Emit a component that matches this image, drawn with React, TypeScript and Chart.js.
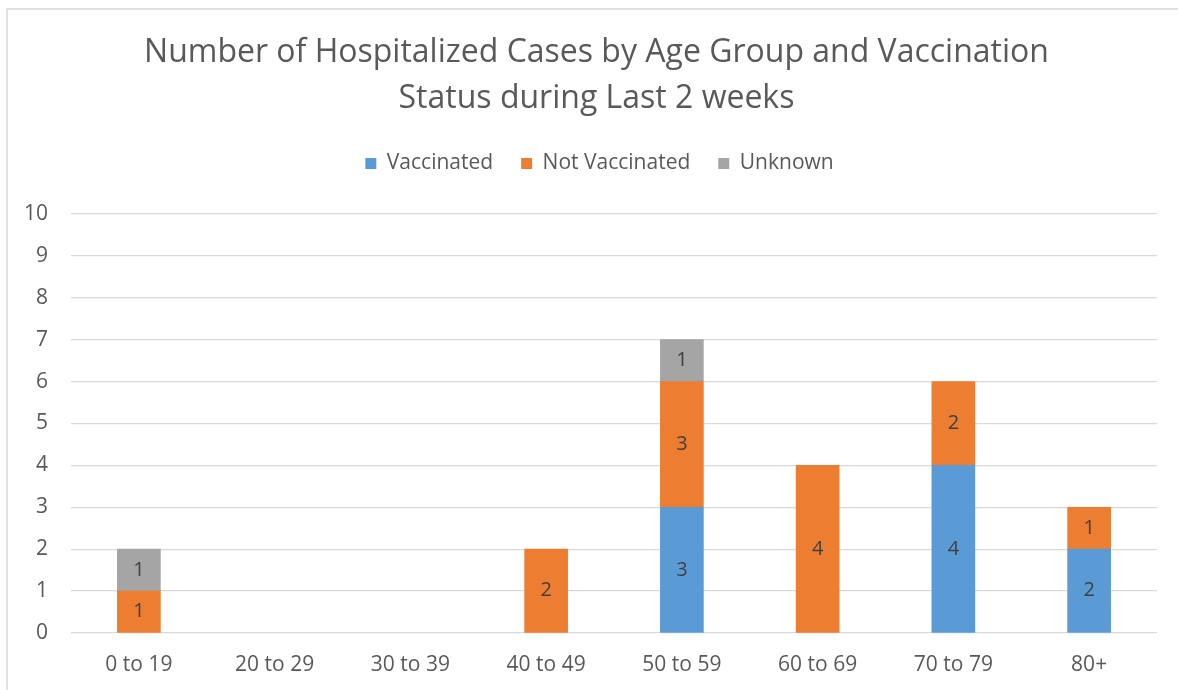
import React, { useEffect, useRef } from "react";
import { Chart, registerables } from "chart.js";

Chart.register(...registerables);

const categories = ["0 to 19", "20 to 29", "30 to 39", "40 to 49", "50 to 59", "60 to 69", "70 to 79", "80+"];
const vaccinated = [0, 0, 0, 0, 3, 0, 4, 2];
const notVaccinated = [1, 0, 0, 2, 3, 4, 2, 1];
const unknown = [1, 0, 0, 0, 1, 0, 0, 0];
const yTicks = [0, 1, 2, 3, 4, 5, 6, 7, 8, 9, 10];
const titleLines = ["Number of Hospitalized Cases by Age Group and Vaccination", "Status during Last 2 weeks"];

const FONT = "'Open Sans', sans-serif";
const TEXT = "#595959";

const nz = (arr: number[]) => arr.map((v) => (v === 0 ? null : v));

const frameAndLabels = {
  id: "frameAndLabels",
  afterInit(chart: any) {
    const legend = chart.legend;
    if (legend && !legend.__patched) {
      const orig = legend.fit.bind(legend);
      legend.fit = function () {
        orig();
        this.height += 30;
      };
      legend.__patched = true;
    }
  },
  afterLayout(chart: any) {
    if (chart.legend) {
      chart.legend.left += 11;
      chart.legend.right += 11;
    }
    if (chart.titleBlock) {
      chart.titleBlock.left += 8;
      chart.titleBlock.right += 8;
    }
  },
  beforeDraw(chart: any) {
    const ctx = chart.ctx;
    ctx.save();
    ctx.fillStyle = "#ffffff";
    ctx.fillRect(0, 0, chart.width, chart.height);
    ctx.strokeStyle = "#D9D9D9";
    ctx.lineWidth = 1.5;
    ctx.strokeRect(7, 9, chart.width + 50, chart.height + 50);
    ctx.restore();
  },
  afterDatasetsDraw(chart: any) {
    const ctx = chart.ctx;
    ctx.save();
    ctx.font = `20px ${FONT}`;
    ctx.fillStyle = "#404040";
    ctx.textAlign = "center";
    ctx.textBaseline = "middle";
    chart.data.datasets.forEach((ds: any, di: number) => {
      const meta = chart.getDatasetMeta(di);
      meta.data.forEach((el: any, i: number) => {
        const v = ds.data[i];
        if (!v) return;
        ctx.fillText(String(v), el.x, (el.y + el.base) / 2);
      });
    });
    ctx.restore();
  },
};

export default function App() {
  const ref = useRef<HTMLCanvasElement>(null);
  useEffect(() => {
    if (!ref.current) return;
    const chart = new Chart(ref.current, {
      type: "bar",
      data: {
        labels: categories,
        datasets: [
          { label: "Vaccinated", data: nz(vaccinated), backgroundColor: "#5B9BD5", borderWidth: 0, barThickness: 43 },
          { label: "Not Vaccinated", data: nz(notVaccinated), backgroundColor: "#ED7D31", borderWidth: 0, barThickness: 43 },
          { label: "Unknown", data: nz(unknown), backgroundColor: "#A5A5A5", borderWidth: 0, barThickness: 43 },
        ],
      },
      options: {
        responsive: false,
        animation: false,
        layout: { padding: { left: 20, right: 21, top: 0, bottom: 0 } },
        plugins: {
          title: {
            display: true,
            text: titleLines,
            color: TEXT,
            font: { family: FONT, size: 32, weight: "normal", lineHeight: 46 / 32 },
            padding: { top: 30, bottom: 3 },
          },
          legend: {
            display: true,
            position: "top",
            labels: {
              color: TEXT,
              font: { family: FONT, size: 21 },
              boxWidth: 11,
              boxHeight: 11,
              padding: 28,
            },
          },
          tooltip: { enabled: false },
        },
        scales: {
          x: {
            stacked: true,
            grid: { display: false, drawTicks: false },
            border: { display: false },
            ticks: { color: TEXT, font: { family: FONT, size: 21 }, padding: 19 },
            afterFit: (s: any) => {
              s.height = 57;
            },
          },
          y: {
            stacked: true,
            min: 0,
            max: 10,
            afterBuildTicks: (s: any) => {
              s.ticks = yTicks.map((v) => ({ value: v }));
            },
            grid: { color: "#D9D9D9", lineWidth: 1.3, drawTicks: false },
            border: { display: false },
            ticks: { color: TEXT, font: { family: FONT, size: 21 }, padding: 23 },
            afterFit: (s: any) => {
              s.width = 51;
            },
          },
        },
      },
      plugins: [frameAndLabels],
    });
    return () => chart.destroy();
  }, []);
  return (
    <div style={{ position: "absolute", left: 0, top: 0, width: 1178, height: 690 }}>
      <canvas ref={ref} width={1178} height={690} />
    </div>
  );
}
